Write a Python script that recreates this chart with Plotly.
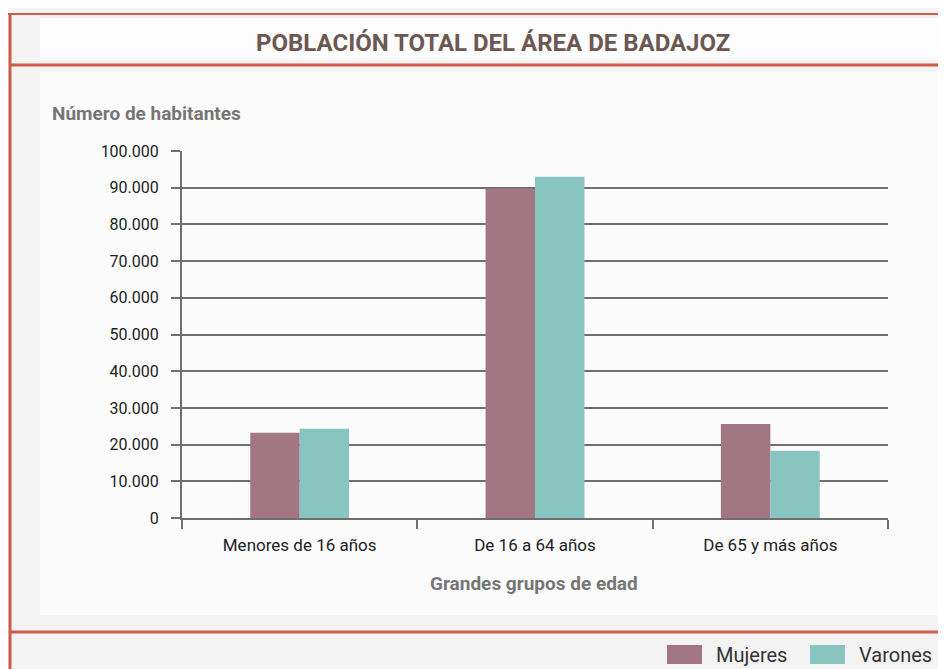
"""Población total del área de Badajoz - bar chart by age group and sex."""
import plotly.graph_objects as go

# ── Data ─────────────────────────────────────────────────────────────────────
categories = ["Menores de 16 años", "De 16 a 64 años", "De 65 y más años"]
series_names = ["Mujeres", "Varones"]
mujeres = [23200, 89800, 25600]
varones = [24300, 93000, 18300]
y_ticks = [0, 10000, 20000, 30000, 40000, 50000, 60000, 70000, 80000, 90000, 100000]

# ── Theme ────────────────────────────────────────────────────────────────────
_OFF = 8                                   # page body margin
_W, _H = 946, 669                          # right/bottom 8px fall off-screen
_PL, _PR, _PT, _PB = 182, 888, 151, 518    # plot area in window pixels
_C_MUJ   = "#a27682"
_C_VAR   = "#88c4c0"
_C_RED   = "#cd5d48"
_C_GRID  = "#6f6f6f"
_C_TITLE = "#6c5852"
_C_AXT   = "#767676"
_C_TEXT  = "#222222"
_FONT    = "Roboto, Liberation Sans, sans-serif"


def px(x):
    return (x - _PL) / (_PR - _PL)


def py(y):
    return (_PB - y) / (_PB - _PT)


def label(text, x, y, size, color, xanchor="center"):
    return dict(text=text, xref="paper", yref="paper", x=px(x), y=py(y),
                xanchor=xanchor, yanchor="middle", showarrow=False,
                font={"size": size, "color": color, "family": _FONT})


fig = go.Figure()
for name, vals, color in zip(series_names, [mujeres, varones], [_C_MUJ, _C_VAR]):
    fig.add_trace(go.Bar(
        x=categories, y=vals, name=name,
        marker={"color": color, "line": {"width": 0}},
        showlegend=False,
    ))

shapes = [
    # inner panels
    dict(type="rect", xref="paper", yref="paper", layer="below",
         x0=px(40), x1=px(960), y0=py(72), y1=py(615),
         fillcolor="#fbfbfb", line={"width": 0}),
    dict(type="rect", xref="paper", yref="paper", layer="below",
         x0=px(40), x1=px(960), y0=py(18), y1=py(60),
         fillcolor="#fcfcfc", line={"width": 0}),
    # red frame
    dict(type="line", xref="paper", yref="paper", x0=px(5), x1=px(960),
         y0=py(14), y1=py(14), line={"color": _C_RED, "width": 2}),
    dict(type="line", xref="paper", yref="paper", x0=px(10), x1=px(960),
         y0=py(65), y1=py(65), line={"color": _C_RED, "width": 3}),
    dict(type="line", xref="paper", yref="paper", x0=px(10), x1=px(960),
         y0=py(632), y1=py(632), line={"color": _C_RED, "width": 3}),
    dict(type="line", xref="paper", yref="paper", x0=px(10), x1=px(10),
         y0=py(13), y1=py(680), line={"color": _C_RED, "width": 3}),
]

annotations = [
    label("<b>POBLACIÓN TOTAL DEL ÁREA DE BADAJOZ</b>", 493, 43, 24, _C_TITLE),
    label("<b>Número de habitantes</b>", 50, 113, 19, _C_AXT, "left"),
    label("<b>Grandes grupos de edad</b>", 534, 583, 19, _C_AXT),
]

# legend drawn as swatches + labels at the bottom
for i, (name, color) in enumerate(zip(series_names, [_C_MUJ, _C_VAR])):
    x0 = 667 + i * 143
    shapes.append(dict(type="rect", xref="paper", yref="paper",
                       x0=px(x0), x1=px(x0 + 35), y0=py(645), y1=py(664),
                       fillcolor=color, line={"width": 0}))
    annotations.append(label(name, x0 + 47, 655, 20, "#333333", "left"))

fig.update_layout(
    width=_W, height=_H,
    margin={"l": _PL - _OFF, "r": _W - (_PR - _OFF), "t": _PT - _OFF,
            "b": _H - (_PB - _OFF), "pad": 0},
    paper_bgcolor="#f3f3f3",
    plot_bgcolor="rgba(0,0,0,0)",
    barmode="group",
    bargap=0.58,
    bargroupgap=0,
    separators=",.",
    font={"family": _FONT, "color": _C_TEXT, "size": 16},
    shapes=shapes,
    annotations=annotations,
    xaxis={
        "showgrid": False,
        "showline": True, "linecolor": _C_GRID, "linewidth": 2,
        "ticks": "outside", "tickson": "boundaries", "ticklen": 9,
        "tickcolor": _C_GRID, "tickwidth": 1.5,
        "tickfont": {"size": 17, "color": _C_TEXT},
        "ticklabelstandoff": 11,
    },
    yaxis={
        "range": [0, 100000],
        "tickvals": y_ticks,
        "tickformat": ",d",
        "showgrid": True, "gridcolor": _C_GRID, "gridwidth": 1.5,
        "zeroline": False,
        "showline": True, "linecolor": _C_GRID, "linewidth": 2,
        "ticks": "outside", "ticklen": 9, "tickcolor": _C_GRID, "tickwidth": 1.5,
        "tickfont": {"size": 16, "color": _C_TEXT},
        "ticklabelstandoff": 9,
    },
)

fig.write_html("out.html")
